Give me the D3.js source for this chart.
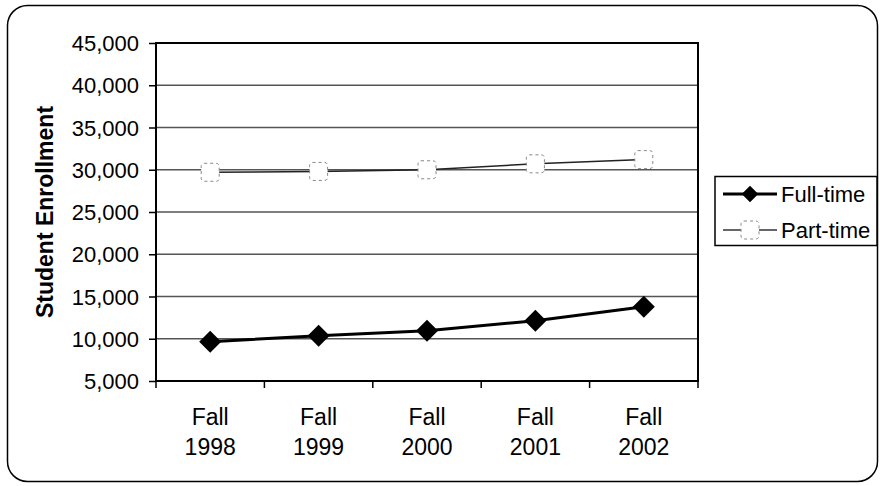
<!DOCTYPE html>
<meta charset="utf-8">
<style>
body { margin: 0; background: #fff; }
svg { display: block; font-family: "Liberation Sans", Arial, sans-serif; }
.axis text { font-size: 22px; fill: #000; }
.axis path, .axis line { stroke: #000; }
</style>
<body>
<svg width="880" height="486"></svg>
</body>
<script src="https://cdn.jsdelivr.net/npm/d3@7/dist/d3.min.js"></script>
<script>

// enrollment by fall term
var terms = ["Fall 1998", "Fall 1999", "Fall 2000", "Fall 2001", "Fall 2002"];
var fullTime = [9650, 10350, 10950, 12130, 13800];
var partTime = [29700, 29800, 30000, 30700, 31200];
var yTicks = [5000, 10000, 15000, 20000, 25000, 30000, 35000, 40000, 45000];
var seriesNames = ["Full-time", "Part-time"];

var svg = d3.select("svg");

var plot = { left: 156, right: 698, top: 43, bottom: 381 };

// outer rounded frame
svg.append("rect")
    .attr("x", 7.5).attr("y", 5.5)
    .attr("width", 870).attr("height", 476)
    .attr("rx", 20).attr("ry", 20)
    .attr("fill", "#fff")
    .attr("stroke", "#000")
    .attr("stroke-width", 1.5);

var x = d3.scaleBand()
    .domain(terms)
    .range([plot.left, plot.right]);

var y = d3.scaleLinear()
    .domain([5000, 45000])
    .range([plot.bottom, plot.top]);

// gridlines
svg.append("g")
  .selectAll("line")
  .data(yTicks.slice(1, -1))
  .enter().append("line")
    .attr("x1", plot.left).attr("x2", plot.right)
    .attr("y1", d => y(d)).attr("y2", d => y(d))
    .attr("stroke", "#555")
    .attr("stroke-width", 1.5);

// y axis
var yAxis = svg.append("g")
    .attr("class", "axis")
    .attr("transform", `translate(${plot.left},0)`)
    .call(d3.axisLeft(y).tickValues(yTicks).tickFormat(d3.format(",")).tickSize(7).tickPadding(10));
yAxis.select(".domain").remove();
yAxis.selectAll("line").attr("stroke-width", 1.5);
yAxis.selectAll("text").attr("dy", "0.35em");

// x axis ticks at band edges
var edges = terms.map(t => x(t)).concat([plot.right]);
svg.append("g")
  .selectAll("line")
  .data(edges)
  .enter().append("line")
    .attr("x1", d => d).attr("x2", d => d)
    .attr("y1", plot.bottom).attr("y2", plot.bottom + 7)
    .attr("stroke", "#000")
    .attr("stroke-width", 1.5);

var xLabels = svg.append("g")
  .selectAll("text")
  .data(terms)
  .enter().append("text")
    .attr("x", d => x(d) + x.bandwidth() / 2)
    .attr("y", 425)
    .attr("text-anchor", "middle")
    .style("font-size", "23px");
xLabels.append("tspan")
    .attr("x", d => x(d) + x.bandwidth() / 2)
    .text(d => d.split(" ")[0]);
xLabels.append("tspan")
    .attr("x", d => x(d) + x.bandwidth() / 2)
    .attr("dy", 30)
    .text(d => d.split(" ")[1]);

// plot frame
svg.append("rect")
    .attr("x", plot.left).attr("y", plot.top)
    .attr("width", plot.right - plot.left)
    .attr("height", plot.bottom - plot.top)
    .attr("fill", "none")
    .attr("stroke", "#000")
    .attr("stroke-width", 2);

// y axis title
svg.append("text")
    .attr("transform", `translate(53,${(plot.top + plot.bottom) / 2}) rotate(-90)`)
    .attr("text-anchor", "middle")
    .style("font-size", "23px")
    .style("font-weight", "bold")
    .text("Student Enrollment");

var line = d3.line()
    .x((d, i) => x(terms[i]) + x.bandwidth() / 2)
    .y(d => y(d));

// part-time series
svg.append("path")
    .datum(partTime)
    .attr("d", line)
    .attr("fill", "none")
    .attr("stroke", "#222")
    .attr("stroke-width", 1.5);

svg.append("g")
  .selectAll("rect")
  .data(partTime)
  .enter().append("rect")
    .attr("x", (d, i) => x(terms[i]) + x.bandwidth() / 2 - 9)
    .attr("y", d => y(d) - 9)
    .attr("width", 18).attr("height", 18)
    .attr("rx", 3)
    .attr("fill", "#fff")
    .attr("stroke", "#888")
    .attr("stroke-width", 1)
    .attr("stroke-dasharray", "3,3");

// full-time series
svg.append("path")
    .datum(fullTime)
    .attr("d", line)
    .attr("fill", "none")
    .attr("stroke", "#000")
    .attr("stroke-width", 3);

var diamond = "M0,-11L11,0L0,11L-11,0Z";
svg.append("g")
  .selectAll("path")
  .data(fullTime)
  .enter().append("path")
    .attr("transform", (d, i) => `translate(${x(terms[i]) + x.bandwidth() / 2},${y(d)})`)
    .attr("d", diamond)
    .attr("fill", "#000");

// legend
var legend = svg.append("g");
legend.append("rect")
    .attr("x", 715).attr("y", 176.5)
    .attr("width", 162).attr("height", 69)
    .attr("fill", "#fff")
    .attr("stroke", "#000")
    .attr("stroke-width", 1.5);

var rows = legend.selectAll("g.row")
  .data(seriesNames)
  .enter().append("g")
    .attr("class", "row")
    .attr("transform", (d, i) => `translate(0,${194 + i * 36})`);

rows.append("line")
    .attr("x1", 723).attr("x2", 777)
    .attr("stroke", (d, i) => i ? "#333" : "#000")
    .attr("stroke-width", (d, i) => i ? 1.5 : 3);

rows.filter((d, i) => i == 0).append("path")
    .attr("transform", "translate(750,0) scale(0.75)")
    .attr("d", diamond)
    .attr("fill", "#000");

rows.filter((d, i) => i == 1).append("rect")
    .attr("x", 741).attr("y", -9)
    .attr("width", 18).attr("height", 18)
    .attr("rx", 3)
    .attr("fill", "#fff")
    .attr("stroke", "#888")
    .attr("stroke-dasharray", "3,3");

rows.append("text")
    .attr("x", 781)
    .attr("dy", "0.35em")
    .style("font-size", "22px")
    .text(d => d);

</script>
